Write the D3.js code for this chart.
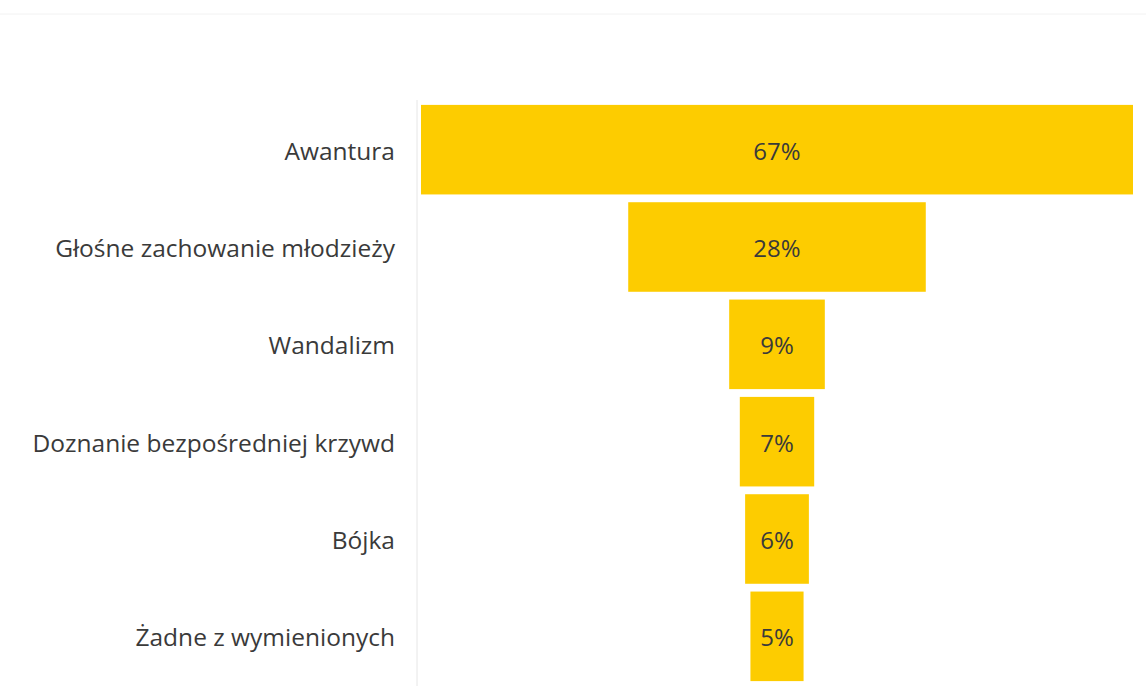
<!DOCTYPE html>
<html>
<head>
<meta charset="utf-8">
<script src="https://cdn.jsdelivr.net/npm/d3@7"></script>
<style>
  body { margin: 0; background: #fff; }
  text { font-family: "Open Sans", sans-serif; fill: #3a3a3a; }
</style>
</head>
<body>
<div id="chart"></div>
<script>
var categories = ["Awantura", "Głośne zachowanie młodzieży", "Wandalizm",
                  "Doznanie bezpośredniej krzywd", "Bójka", "Żadne z wymienionych"];
var values = [67, 28, 9, 7, 6, 5];
var valueLabels = ["67%", "28%", "9%", "7%", "6%", "5%"];

var width = 1146, height = 700;
var plotLeft = 417, plotRight = 1137;
var center = (plotLeft + plotRight) / 2;

var svg = d3.select("#chart").append("svg")
    .attr("width", width)
    .attr("height", height);

var data = categories.map(function(c, i){
    return {cat: c, value: values[i], label: valueLabels[i]};
});

//bar width scale, bars are centered on the plot
var x = d3.scaleLinear()
    .domain([0, d3.max(values)])
    .range([0, 712]);

var y = d3.scaleBand()
    .domain(categories)
    .range([101, 685])
    .paddingInner(0.08)
    .paddingOuter(0.04);

//faint frame line at top
svg.append("line")
    .attr("x1", 0).attr("x2", width)
    .attr("y1", 14).attr("y2", 14)
    .attr("stroke", "#f2f2f2")
    .attr("stroke-width", 1);

//category axis line
svg.append("line")
    .attr("x1", plotLeft).attr("x2", plotLeft)
    .attr("y1", 100).attr("y2", 686)
    .attr("stroke", "#e6e6e6")
    .attr("stroke-width", 1);

var rows = svg.selectAll("g.row")
    .data(data)
    .enter()
    .append("g")
    .attr("class", "row")
    .attr("transform", function(d){ return "translate(0," + y(d.cat) + ")"; });

rows.append("rect")
    .attr("x", function(d){ return center - x(d.value) / 2; })
    .attr("y", 0)
    .attr("width", function(d){ return x(d.value); })
    .attr("height", y.bandwidth())
    .attr("fill", "#fdcc00");

rows.append("text")
    .attr("x", center)
    .attr("y", y.bandwidth() / 2 + 10)
    .attr("text-anchor", "middle")
    .attr("font-size", 24)
    .text(function(d){ return d.label; });

rows.append("text")
    .attr("x", 395)
    .attr("y", y.bandwidth() / 2 + 10)
    .attr("text-anchor", "end")
    .attr("font-size", 24.5)
    .text(function(d){ return d.cat; });
</script>
</body>
</html>
